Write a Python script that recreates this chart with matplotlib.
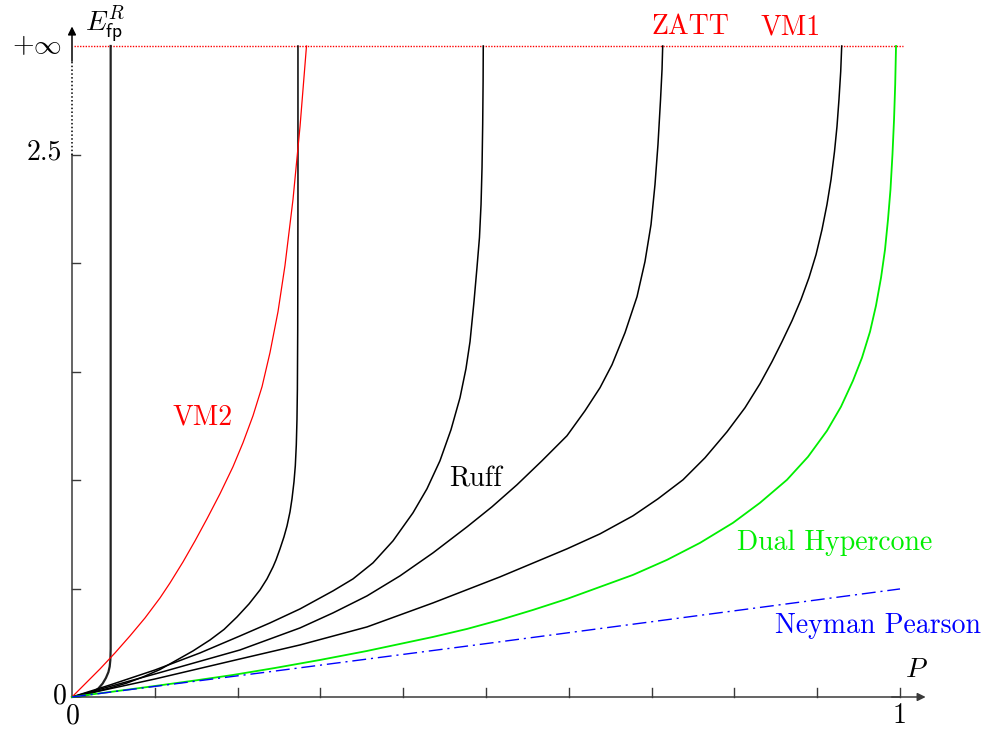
import matplotlib
matplotlib.use('Agg')
import matplotlib.pyplot as plt

# computer modern look, like the LaTeX original
plt.rcParams['mathtext.fontset'] = 'cm'
plt.rcParams['font.family'] = 'cmr10'
plt.rcParams['axes.unicode_minus'] = False

INF = 3.0  # height where "+infinity" is drawn

# DATA: (P, E_fp^R) points

# Ruff family (black)
ruff1_p = [0, 0.009, 0.018, 0.026, 0.032, 0.037, 0.041, 0.0440, 0.0455, 0.0463, 0.0467, 0.0467]
ruff1_e = [0, 0.003, 0.009, 0.022, 0.040, 0.062, 0.088, 0.115, 0.140, 0.170, 0.22, INF]

ruff2_p = [0, 0.0217, 0.0459, 0.0664, 0.0857, 0.1063, 0.1268, 0.1461, 0.1667, 0.1836, 0.1993, 0.2138,
           0.2271, 0.2355, 0.2428, 0.2464, 0.2512, 0.2560, 0.2597, 0.2633, 0.2657, 0.2681, 0.2697,
           0.2709, 0.2717, 0.2722, 0.2726, 0.2729, 0.2729]
ruff2_e = [0, 0.0185, 0.0415, 0.0646, 0.0923, 0.1268, 0.1707, 0.2122, 0.2629, 0.3113, 0.3690, 0.4290,
           0.4935, 0.5443, 0.5996, 0.6319, 0.6827, 0.7380, 0.7887, 0.8533, 0.9133, 0.9917, 1.0655,
           1.1624, 1.2777, 1.4161, 1.6928, 2.3063, INF]

ruff3_p = [0, 0.0459, 0.1002, 0.1546, 0.2029, 0.2391, 0.2754, 0.3152, 0.3394, 0.3635, 0.3877, 0.4118,
           0.4287, 0.4444, 0.4577, 0.4686, 0.4758, 0.4807, 0.4855, 0.4891, 0.4921, 0.4940, 0.4952,
           0.4960, 0.4965, 0.4967]
ruff3_e = [0, 0.0554, 0.1245, 0.2030, 0.2814, 0.3413, 0.4059, 0.4889, 0.5443, 0.6181, 0.7196, 0.8487,
           0.9594, 1.0886, 1.2315, 1.3791, 1.5129, 1.6375, 1.8220, 1.9788, 2.1172, 2.2694, 2.4400,
           2.6384, 2.8367, INF]

ruff4_p = [0, 0.1002, 0.2029, 0.2754, 0.3152, 0.3563, 0.3961, 0.4360, 0.4771, 0.5072, 0.5374, 0.5676,
           0.5978, 0.6196, 0.6377, 0.6522, 0.6679, 0.6824, 0.6920, 0.6993, 0.7041, 0.7077, 0.7108,
           0.7126, 0.7134]
ruff4_e = [0, 0.1061, 0.2168, 0.3183, 0.3875, 0.4659, 0.5581, 0.6642, 0.7841, 0.8764, 0.9779, 1.0886,
           1.2039, 1.3192, 1.4253, 1.5314, 1.6790, 1.8450, 2.0065, 2.1771, 2.3616, 2.5461, 2.7537,
           2.8920, INF]

ruff5_p = [0, 0.1002, 0.2029, 0.2754, 0.3563, 0.4360, 0.5169, 0.5978, 0.6377, 0.6775, 0.7077, 0.7379,
           0.7645, 0.7911, 0.8128, 0.8309, 0.8454, 0.8575, 0.8696, 0.8804, 0.8901, 0.8986, 0.9058,
           0.9118, 0.9167, 0.9209, 0.9239, 0.9263, 0.9284, 0.9296]
ruff5_e = [0, 0.0830, 0.1753, 0.2399, 0.3229, 0.4336, 0.5535, 0.6827, 0.7518, 0.8349, 0.9133, 1.0009,
           1.1024, 1.2223, 1.3330, 1.4437, 1.5452, 1.6375, 1.7343, 1.8312, 1.9326, 2.0387, 2.1540,
           2.2694, 2.3847, 2.5138, 2.6292, 2.7537, 2.8828, INF]

# VM2 (red)
vm2_p = [0, 0.0169, 0.0338, 0.0519, 0.0700, 0.0882, 0.1063, 0.1184, 0.1341, 0.1486, 0.1630, 0.1787,
         0.1944, 0.2065, 0.2186, 0.2295, 0.2391, 0.2488, 0.2572, 0.2669, 0.2754, 0.2832]
vm2_e = [0, 0.0646, 0.1292, 0.2030, 0.2814, 0.3644, 0.4566, 0.5258, 0.6227, 0.7196, 0.8210, 0.9363,
         1.0609, 1.1716, 1.2961, 1.4299, 1.5867, 1.7758, 1.9880, 2.2924, 2.6292, INF]

# Dual Hypercone (green)
dual_p = [0, 0.0459, 0.1002, 0.1486, 0.1944, 0.2452, 0.2995, 0.3563, 0.3961, 0.4360, 0.4771, 0.5169,
          0.5568, 0.5978, 0.6377, 0.6775, 0.7186, 0.7585, 0.7983, 0.8309, 0.8635, 0.8889, 0.9118,
          0.9287, 0.9432, 0.9541, 0.9638, 0.9710, 0.9771, 0.9819, 0.9855, 0.9885, 0.9909, 0.9928,
          0.9942, 0.9952]
dual_e = [0, 0.0231, 0.0507, 0.0761, 0.1015, 0.1338, 0.1707, 0.2122, 0.2445, 0.2768, 0.3137, 0.3552,
          0.4013, 0.4520, 0.5074, 0.5627, 0.6319, 0.7103, 0.8026, 0.8948, 1.0009, 1.1070, 1.2269,
          1.3376, 1.4576, 1.5636, 1.6836, 1.8035, 1.9326, 2.0618, 2.2002, 2.3386, 2.5000, 2.6614,
          2.8229, INF]

# Neyman Pearson (blue)
np_p = [0, 0.25, 0.5, 0.75, 1.0]
np_e = [0, 0.122, 0.246, 0.372, 0.498]

x_ticks = [0.1, 0.2, 0.3, 0.4, 0.5, 0.6, 0.7, 0.8, 0.9, 1.0]
y_ticks = [0.5, 1.0, 1.5, 2.0, 2.5]

# FIGURE

fig = plt.figure(figsize=(9.88, 7.30), dpi=100)
ax = fig.add_axes([72 / 988, 33 / 730, 828 / 988, 651 / 730])
ax.set_xlim(0, 1)
ax.set_ylim(0, 3)
ax.axis('off')

axis_col = '#3a3a3a'

# axes with arrows
ax.plot([0, 1.0], [0, 0], color=axis_col, lw=1.1, clip_on=False)
ax.annotate('', xy=(1.031, 0), xytext=(0.99, 0), annotation_clip=False,
            arrowprops=dict(arrowstyle='-|>', color=axis_col, lw=1.1,
                            mutation_scale=12, shrinkA=0, shrinkB=0))
ax.plot([0, 0], [0, 2.5], color=axis_col, lw=1.1, clip_on=False)
ax.plot([0, 0], [2.5, 2.93], color='black', lw=1.1, ls=(0, (1, 1.5)), clip_on=False)
ax.annotate('', xy=(0, 3.09), xytext=(0, 2.93), annotation_clip=False,
            arrowprops=dict(arrowstyle='-|>', color='black', lw=1.1,
                            mutation_scale=12, shrinkA=0, shrinkB=0))

# tick marks
for t in x_ticks:
    ax.plot([t, t], [0, 0.04], color=axis_col, lw=1.0, clip_on=False)
for t in y_ticks:
    ax.plot([0, 0.0097], [t, t], color=axis_col, lw=1.0, clip_on=False)

# +infinity line
ax.plot([0.002, 1.004], [INF, INF], color='red', lw=1.0, ls=(0, (1, 1)), clip_on=False)

# curves
ax.plot(ruff1_p, ruff1_e, color='#222222', lw=1.6, clip_on=False)
ax.plot(ruff2_p, ruff2_e, color='black', lw=1.1, clip_on=False)
ax.plot(ruff3_p, ruff3_e, color='black', lw=1.1, clip_on=False)
ax.plot(ruff4_p, ruff4_e, color='black', lw=1.1, clip_on=False)
ax.plot(ruff5_p, ruff5_e, color='black', lw=1.1, clip_on=False)
ax.plot(vm2_p, vm2_e, color='red', lw=0.9, clip_on=False)
ax.plot(dual_p, dual_e, color='#00ee00', lw=1.3, clip_on=False)
ax.plot(np_p, np_e, color='blue', lw=1.0, ls=(0, (10, 3.5, 1.5, 3.5)), clip_on=False)

fs = 20

# tick labels
ax.text(-0.012, 3.0, r'$+\infty$', fontsize=fs, ha='right', va='center')
ax.text(-0.012, 2.477, '2.5', fontsize=fs, ha='right', va='baseline')
ax.text(-0.006, -0.032, '0', fontsize=fs, ha='right', va='baseline')
ax.text(0.001, -0.12, '0', fontsize=fs, ha='center', va='baseline')
ax.text(0.999, -0.12, '1', fontsize=fs, ha='center', va='baseline')

# axis names
ax.text(1.006, 0.092, r'$P$', fontsize=fs, ha='left', va='baseline')
ax.text(0.0157, 3.067, r'$E^R_{\mathsf{fp}}$', fontsize=fs, ha='left', va='baseline')

# curve names
ax.text(0.7464, 3.053, 'ZATT', fontsize=fs, color='red', ha='center', va='baseline')
ax.text(0.8684, 3.053, 'VM1', fontsize=fs, color='red', ha='center', va='baseline')
ax.text(0.1582, 1.2546, 'VM2', fontsize=fs, color='red', ha='center', va='baseline')
ax.text(0.4879, 0.9686, 'Ruff', fontsize=fs, color='black', ha='center', va='baseline')
ax.text(0.9215, 0.678, 'Dual Hypercone', fontsize=fs, color='#00ee00', ha='center', va='baseline')
ax.text(0.9734, 0.295, 'Neyman Pearson', fontsize=fs, color='blue', ha='center', va='baseline')

fig.savefig('out.png', dpi=100)
